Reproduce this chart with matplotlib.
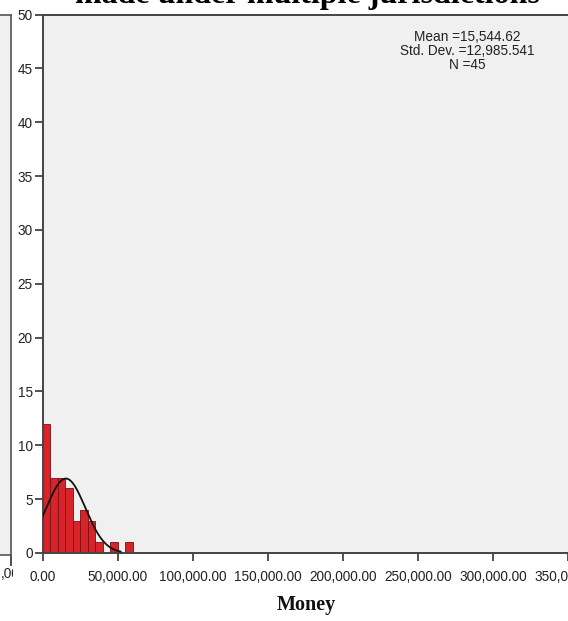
import numpy as np
import matplotlib
matplotlib.use("Agg")
import matplotlib.pyplot as plt
from matplotlib.transforms import Bbox

# Histogram counts (bin width 5,000)
bin_edges = [0, 5000, 10000, 15000, 20000, 25000, 30000, 35000,
             40000, 45000, 50000, 55000, 60000]
counts = [12, 7, 7, 6, 3, 4, 3, 1, 0, 1, 0, 1]

mean_val = 15544.62
std_val = 12985.541
n_val = 45

x_ticks = [0, 50000, 100000, 150000, 200000, 250000, 300000, 350000]
x_ticklabels = ["0.00", "50,000.00", "100,000.00", "150,000.00",
                "200,000.00", "250,000.00", "300,000.00", "350,000.00"]
y_ticks = [0, 5, 10, 15, 20, 25, 30, 35, 40, 45, 50]

W, H = 568, 621
fig = plt.figure(figsize=(W / 100, H / 100), dpi=100)
fig.patch.set_facecolor("white")

sans = ["Liberation Sans", "DejaVu Sans"]
serif = ["Liberation Serif", "DejaVu Serif"]
panel_bg = "#f0f0f0"
axis_col = "#333333"

def px_rect(x0, y0, x1, y1):
    return [x0 / W, 1 - y1 / H, (x1 - x0) / W, (y1 - y0) / H]

# neighbouring panel on the left
axn = fig.add_axes(px_rect(-300, 14.5, 11, 555))
axn.set_facecolor(panel_bg)
axn.set_xlim(0, 350000)
axn.set_ylim(0, 50)
axn.set_yticks([])
axn.set_xticks([350000])
axn.set_xticklabels([""])
axn.tick_params(axis="x", length=8, width=1.2, color=axis_col)
for side in ["top", "bottom", "left", "right"]:
    axn.spines[side].set_color("#555555")
    axn.spines[side].set_linewidth(1.2)
edge_txt = fig.text(0.5 / W, 1 - 574 / H, ",00", ha="left", va="center",
                    fontsize=9.8, family=sans, color="#222222")
edge_txt.set_clip_box(Bbox([[0, 0], [12.5, H]]))
edge_txt.set_clip_on(True)

# main histogram panel
ax = fig.add_axes(px_rect(42.5, 14.5, 570, 553))
ax.set_facecolor(panel_bg)
ax.set_xlim(0, 350000 * (570 - 42.5) / (568 - 42.5))
ax.set_ylim(0, 50)

ax.hist(bin_edges[:-1], bins=bin_edges, weights=counts,
        color="#d8232a", edgecolor="#7a0f12", linewidth=0.6, zorder=2)

xs = np.linspace(0, 52000, 300)
bw = bin_edges[1] - bin_edges[0]
ys = n_val * bw / (std_val * np.sqrt(2 * np.pi)) * np.exp(-0.5 * ((xs - mean_val) / std_val) ** 2)
ax.plot(xs, ys, color="#111111", linewidth=1.3, zorder=3)

ax.set_xticks(x_ticks)
ax.set_xticklabels(x_ticklabels)
ax.set_yticks(y_ticks)
ax.set_yticklabels([str(v) for v in y_ticks])
ax.tick_params(axis="both", direction="out", length=6, width=1.2, color=axis_col,
               labelsize=9.8, labelcolor="#222222")
ax.tick_params(axis="x", pad=6)
ax.tick_params(axis="y", pad=1)
for lbl in ax.get_xticklabels() + ax.get_yticklabels():
    lbl.set_family(sans)
for side in ["top", "bottom", "left", "right"]:
    ax.spines[side].set_color("#444444")
    ax.spines[side].set_linewidth(1.4)

ax.text(467 / W, 1 - 51 / H,
        "Mean =15,544.62\nStd. Dev. =12,985.541\nN =45",
        transform=fig.transFigure, ha="center", va="center",
        fontsize=9.8, family=sans, color="#222222", linespacing=1.0)

fig.text(307.5 / W, 1 - 3.5 / H, "made under multiple jurisdictions",
         ha="center", va="baseline", fontsize=23, fontweight="bold",
         family=serif, color="black")
fig.text(306 / W, 1 - 605 / H, "Money", ha="center", va="center",
         fontsize=14.5, fontweight="bold", family=serif, color="#111111")

fig.savefig("out.png", dpi=100)
